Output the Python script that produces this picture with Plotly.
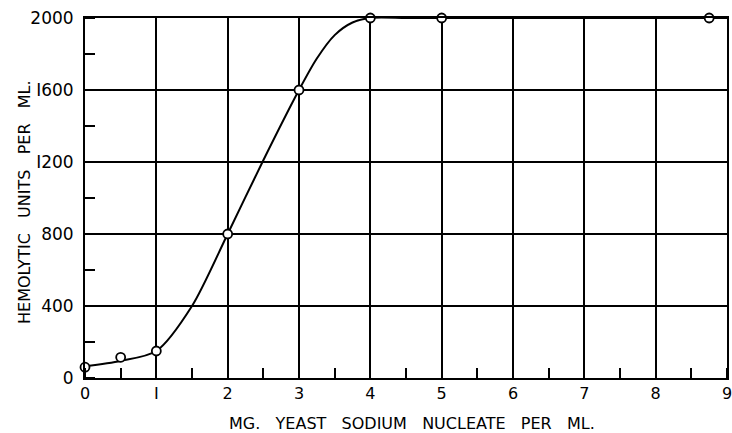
import plotly.graph_objects as go

# observed data points
dose_mg = [0, 0.5, 1, 2, 3, 4, 5, 8.75]
hemolytic_units = [60, 115, 150, 800, 1600, 2000, 2000, 2000]

# smooth fitted curve (knots)
curve_x = [0, 0.5, 1, 1.5, 2, 2.5, 3, 3.25, 3.5, 3.75, 4, 4.5, 5, 9]
curve_y = [65, 95, 150, 400, 800, 1210, 1600, 1775, 1905, 1975, 2000, 2000, 2000, 2000]

x_ticks = [0, 1, 2, 3, 4, 5, 6, 7, 8, 9]
x_tick_labels = ["0", "I", "2", "3", "4", "5", "6", "7", "8", "9"]
y_ticks = [0, 400, 800, 1200, 1600, 2000]
y_tick_labels = ["0", "400", "800", "I200", "I600", "2000"]

x_title = "MG.&nbsp;&nbsp;&nbsp;YEAST&nbsp;&nbsp;&nbsp;SODIUM&nbsp;&nbsp;&nbsp;NUCLEATE&nbsp;&nbsp;&nbsp;PER&nbsp;&nbsp;&nbsp;ML."
y_title = "HEMOLYTIC&nbsp;&nbsp;&nbsp;UNITS&nbsp;&nbsp;&nbsp;PER&nbsp;&nbsp;&nbsp;ML."

font_family = "DejaVu Sans, Liberation Sans, sans-serif"

fig = go.Figure()
fig.add_trace(go.Scatter(
    x=curve_x, y=curve_y, mode="lines",
    line=dict(color="black", width=2, shape="spline", smoothing=0.8),
    hoverinfo="skip", showlegend=False,
))
fig.add_trace(go.Scatter(
    x=dose_mg, y=hemolytic_units, mode="markers",
    marker=dict(symbol="circle", size=9, color="white",
                line=dict(color="black", width=1.8)),
    showlegend=False, cliponaxis=False,
))

fig.update_layout(
    width=732, height=433,
    margin=dict(l=85, r=5, t=18, b=55),
    paper_bgcolor="white", plot_bgcolor="white",
    font=dict(family=font_family, color="black", size=14),
    annotations=[
        dict(text=x_title, xref="paper", yref="paper", x=0.509, y=0,
             xanchor="center", yanchor="middle", yshift=-45,
             showarrow=False, font=dict(size=16)),
        dict(text=y_title, xref="paper", yref="paper", x=0, y=0.489,
             xanchor="center", yanchor="middle", xshift=-60, textangle=-90,
             showarrow=False, font=dict(size=16)),
    ],
)
fig.update_xaxes(
    range=[0, 9], tickvals=x_ticks, ticktext=x_tick_labels,
    showgrid=True, gridcolor="black", gridwidth=1.5,
    showline=True, linecolor="black", linewidth=2, mirror=True,
    ticks="", zeroline=False, automargin=False,
    tickfont=dict(size=16), ticklabeloverflow="allow",
    minor=dict(dtick=0.5, tick0=0.5, ticks="inside", ticklen=10,
               tickcolor="black", tickwidth=1.5, showgrid=False),
)
fig.update_yaxes(
    range=[0, 2000], tickvals=y_ticks, ticktext=y_tick_labels,
    showgrid=True, gridcolor="black", gridwidth=1.5,
    showline=True, linecolor="black", linewidth=2, mirror=True,
    ticks="", zeroline=False, automargin=False,
    tickfont=dict(size=17), ticklabelstandoff=6,
    minor=dict(dtick=200, tick0=200, ticks="inside", ticklen=10,
               tickcolor="black", tickwidth=1.5, showgrid=False),
)

fig.write_html(
    "out.html",
    config={"displayModeBar": False},
    post_script="document.body.style.margin='0';document.body.style.overflow='hidden';",
)
